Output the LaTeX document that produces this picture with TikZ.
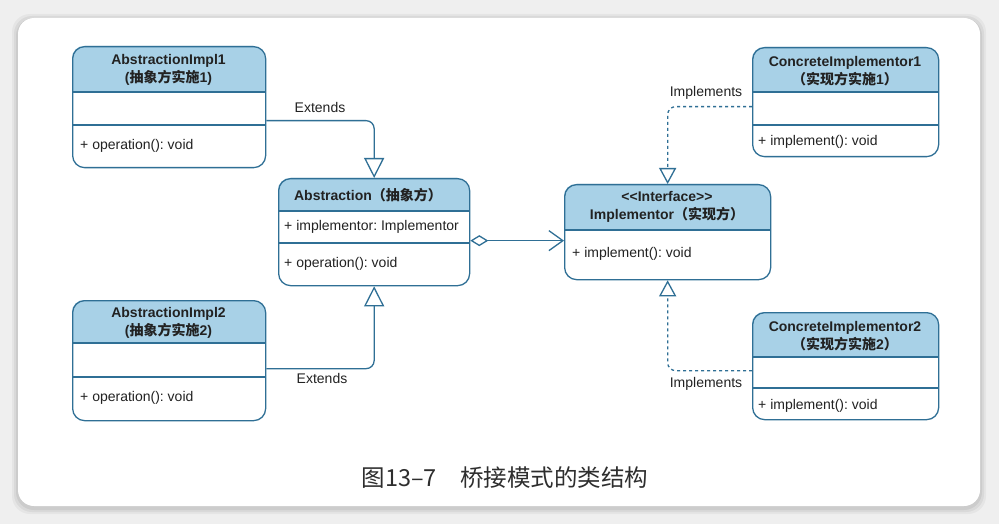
\documentclass[tikz,border=0pt]{standalone}
\usepackage{fontspec}
\setmainfont{Liberation Sans}
\newfontfamily\cjkfont{Noto Sans CJK SC}
\usetikzlibrary{arrows.meta}
\definecolor{bd}{HTML}{2F6F95}
\definecolor{hf}{HTML}{A8D1E7}
\definecolor{tx}{HTML}{222222}
\definecolor{bgc}{HTML}{EFEFEF}
\newcommand{\zh}[1]{{\cjkfont #1}}
\newcommand{\hdrfill}[4]{\fill[hf, rounded corners=12pt] (#1,#4) -- (#1,#2) -- (#3,#2) -- (#3,#4);}
\frenchspacing
\begin{document}
\begin{tikzpicture}[x=1pt,y=-1pt,
  box/.style={draw=bd, line width=1.3pt, rounded corners=12pt, inner sep=0pt, anchor=north west},
  sep/.style={draw=bd, line width=1.3pt},
  title/.style={font=\fontsize{14}{18}\selectfont\bfseries, text=tx, align=center},
  member/.style={font=\fontsize{14}{17}\selectfont, text=tx, anchor=west, inner sep=0pt},
  lbl/.style={font=\fontsize{14}{17}\selectfont, text=tx, inner sep=1pt},
  conn/.style={draw=bd, line width=1.3pt, rounded corners=8pt},
  ext/.style={conn, -{Triangle[open, length=20pt, width=20pt]}},
  impl/.style={conn, dash pattern=on 3pt off 3pt, -{Triangle[open, length=16pt, width=17pt]}},
]
\useasboundingbox (0,0) rectangle (999,524);
% background and card
\fill[bgc] (0,0) rectangle (999,524);
\foreach \i/\o in {6/0.04,4/0.05,2/0.06}{
  \fill[black, opacity=\o, rounded corners=18pt] (18-\i,18-\i+2) rectangle (980+\i,506+\i+2);
}
\fill[white, rounded corners=16pt] (18,18) rectangle (980,506);

% ---------- AbstractionImpl1
\hdrfill{72}{46}{265}{92}
\draw[sep] (72,92) -- (265,92);
\draw[sep] (72,125) -- (265,125);
\node[box, minimum width=193pt, minimum height=121pt] (ai1) at (72,46) {};
\node[title] (ai1t) at (168.5,70) {AbstractionImpl1\\(\zh{抽象方实施}1)};
\node[member] (ai1m) at (80,146) {+ operation(): void};

% ---------- AbstractionImpl2
\hdrfill{72}{300}{265}{343}
\draw[sep] (72,343) -- (265,343);
\draw[sep] (72,377) -- (265,377);
\node[box, minimum width=193pt, minimum height=120pt] (ai2) at (72,300) {};
\node[title] (ai2t) at (168.5,323) {AbstractionImpl2\\(\zh{抽象方实施}2)};
\node[member] (ai2m) at (80,398) {+ operation(): void};

% ---------- Abstraction
\hdrfill{278}{178}{469}{211}
\draw[sep] (278,211) -- (469,211);
\draw[sep] (278,243) -- (469,243);
\node[box, minimum width=191pt, minimum height=107pt] (abs) at (278,178) {};
\node[title] (abst) at (368,195) {Abstraction\zh{（抽象方）}};
\node[member] (absa) at (284,227) {+ implementor: Implementor};
\node[member] (absm) at (284,264) {+ operation(): void};

% ---------- Implementor
\hdrfill{564}{184}{770}{230}
\draw[sep] (564,230) -- (770,230);
\node[box, minimum width=206pt, minimum height=95pt] (imp) at (564,184) {};
\node[title] (impt) at (667,207) {<{}<Interface>{}>\\Implementor\zh{（实现方）}};
\node[member] (impm) at (572,254) {+ implement(): void};

% ---------- ConcreteImplementor1
\hdrfill{752}{47}{938}{92}
\draw[sep] (752,92) -- (938,92);
\draw[sep] (752,125) -- (938,125);
\node[box, minimum width=186pt, minimum height=109pt] (ci1) at (752,47) {};
\node[title] (ci1t) at (845,71) {ConcreteImplementor1\\\zh{（实现方实施}1\zh{）}};
\node[member] (ci1m) at (758,142) {+ implement(): void};

% ---------- ConcreteImplementor2
\hdrfill{752}{312}{938}{357}
\draw[sep] (752,357) -- (938,357);
\draw[sep] (752,388) -- (938,388);
\node[box, minimum width=186pt, minimum height=107pt] (ci2) at (752,312) {};
\node[title] (ci2t) at (845,336) {ConcreteImplementor2\\\zh{（实现方实施}2\zh{）}};
\node[member] (ci2m) at (758,406) {+ implement(): void};

% ---------- connectors
\draw[ext] ([yshift=-13.5pt]ai1.east) -| (abs.north);
\draw[ext] ([yshift=-8pt]ai2.east) -| (abs.south);
\draw[conn, {Diamond[open, length=18pt, width=11pt]}-{Straight Barb[length=14pt, width=20pt]}]
  ([yshift=-8.5pt]abs.east) -- ([yshift=-8.5pt]imp.west);
\draw[impl] ([yshift=-4.5pt]ci1.west) -| (imp.north);
\draw[impl] ([yshift=-4.5pt]ci2.west) -| (imp.south);

% ---------- labels
\node[lbl] (l1) at (320,107) {Extends};
\node[lbl] (l2) at (322,378) {Extends};
\node[lbl] (l3) at (706,93) {Implements};
\node[lbl] (l4) at (706,384) {Implements};

% ---------- caption
\node[font=\cjkfont\fontsize{23.5}{28}\selectfont, text=black!82] (cap) at (505,478) {图13–7　桥接模式的类结构};
\end{tikzpicture}
\end{document}
